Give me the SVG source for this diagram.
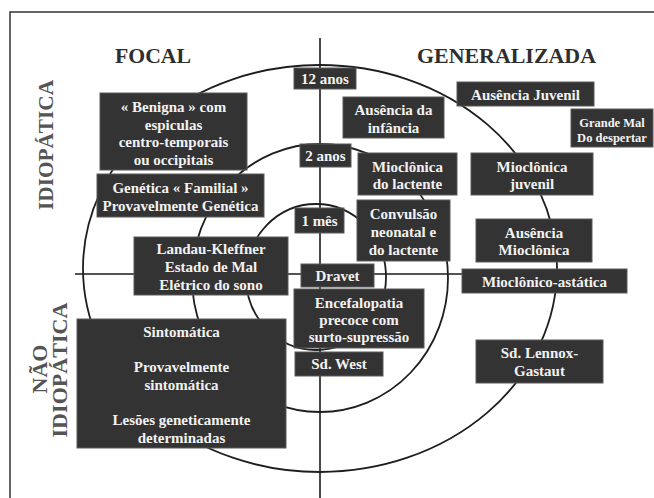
<svg xmlns="http://www.w3.org/2000/svg" width="654" height="498" viewBox="0 0 654 498">
<style>
.bg{fill:#ffffff}
.frame{fill:none;stroke:#333;stroke-width:1.5}
.ax{fill:none;stroke:#1a1a1a;stroke-width:1.6}
.ring{fill:none;stroke:#1e1e1e;stroke-width:1.8}
.box rect{fill:#333333;stroke:#5a5a5a;stroke-width:1}
.box text{fill:#f2f2f2;font-family:"Liberation Serif","Times New Roman",serif;font-weight:bold;font-size:15px;text-anchor:middle}
.box text.sm{font-size:12.5px}
.hd{fill:#2e2e2e;font-family:"Liberation Serif","Times New Roman",serif;font-weight:bold;font-size:22px;text-anchor:middle}
.vt{fill:#555;font-family:"Liberation Serif","Times New Roman",serif;font-weight:bold;font-size:22px;text-anchor:middle}
</style>
<rect class="bg" x="0" y="0" width="654" height="498"/>
<path class="frame" d="M10,500 V12 H656"/>

<g id="connectors">
  <line class="ax" x1="320" y1="38" x2="320" y2="498"/>
  <line class="ax" x1="75" y1="274" x2="462" y2="274"/>
  <ellipse class="ring" cx="320" cy="268.5" rx="237" ry="203.5"/>
  <ellipse class="ring" cx="320" cy="278" rx="128" ry="134"/>
  <ellipse class="ring" cx="316" cy="277" rx="70" ry="73"/>
</g>

<g id="labels">
  <text id="lbl-focal" class="hd" x="153" y="63" textLength="76" lengthAdjust="spacingAndGlyphs">FOCAL</text>
  <text id="lbl-generalizada" class="hd" x="506.5" y="63" textLength="179" lengthAdjust="spacingAndGlyphs">GENERALIZADA</text>
  <text id="lbl-idiopatica" class="vt" transform="translate(53,145) rotate(-90)" x="0" y="0" textLength="130" lengthAdjust="spacingAndGlyphs">IDIOPÁTICA</text>
  <g id="lbl-nao-idiopatica">
    <text class="vt" transform="translate(47,369) rotate(-90)" x="0" y="0">NÃO</text>
    <text class="vt" transform="translate(67,370) rotate(-90)" x="0" y="0" textLength="135" lengthAdjust="spacingAndGlyphs">IDIOPÁTICA</text>
  </g>
</g>

<g id="node-benigna" class="box">
  <rect x="100" y="93" width="147" height="77"/>
  <text x="173.5" y="112">« Benigna » com</text>
  <text x="173.5" y="129.5">espiculas</text>
  <text x="173.5" y="147">centro-temporais</text>
  <text x="173.5" y="164.5">ou occipitais</text>
</g>
<g id="node-genetica" class="box">
  <rect x="97" y="174" width="167" height="43"/>
  <text x="180.5" y="193">Genética « Familial »</text>
  <text x="180.5" y="211">Provavelmente Genética</text>
</g>
<g id="node-landau" class="box">
  <rect x="134" y="237" width="154" height="58"/>
  <text x="211" y="254">Landau-Kleffner</text>
  <text x="211" y="272">Estado de Mal</text>
  <text x="211" y="290">Elétrico do sono</text>
</g>
<g id="node-sintomatica" class="box">
  <rect x="77" y="319" width="209" height="129"/>
  <text x="181.5" y="337">Sintomática</text>
  <text x="181.5" y="372">Provavelmente</text>
  <text x="181.5" y="390">sintomática</text>
  <text x="181.5" y="425">Lesões geneticamente</text>
  <text x="181.5" y="443">determinadas</text>
</g>
<g id="node-12anos" class="box">
  <rect x="294" y="68" width="62" height="21"/>
  <text x="325" y="84">12 anos</text>
</g>
<g id="node-2anos" class="box">
  <rect x="300" y="144" width="51" height="23"/>
  <text x="325.5" y="161">2 anos</text>
</g>
<g id="node-1mes" class="box">
  <rect x="295" y="208" width="49" height="25"/>
  <text x="319.5" y="226">1 mês</text>
</g>
<g id="node-ausencia-infancia" class="box">
  <rect x="343" y="97" width="101" height="41"/>
  <text x="393.5" y="115">Ausência da</text>
  <text x="393.5" y="133">infância</text>
</g>
<g id="node-ausencia-juvenil" class="box">
  <rect x="457" y="82" width="137" height="24"/>
  <text x="525.5" y="100">Ausência Juvenil</text>
</g>
<g id="node-grande-mal" class="box">
  <rect x="571" y="109" width="82" height="38"/>
  <text class="sm" x="612" y="126.5">Grande Mal</text>
  <text class="sm" x="612" y="141.5">Do despertar</text>
</g>
<g id="node-mioclonica-lactente" class="box">
  <rect x="358" y="153" width="99" height="42"/>
  <text x="407.5" y="172">Mioclônica</text>
  <text x="407.5" y="188.5">do lactente</text>
</g>
<g id="node-mioclonica-juvenil" class="box">
  <rect x="471" y="153" width="122" height="42"/>
  <text x="532" y="172">Mioclônica</text>
  <text x="532" y="189">juvenil</text>
</g>
<g id="node-convulsao" class="box">
  <rect x="357" y="200" width="93" height="61"/>
  <text x="403.5" y="218.5">Convulsão</text>
  <text x="403.5" y="236.5">neonatal e</text>
  <text x="403.5" y="254.5">do lactente</text>
</g>
<g id="node-ausencia-mioclonica" class="box">
  <rect x="476" y="219" width="116" height="43"/>
  <text x="534" y="238">Ausência</text>
  <text x="534" y="255">Mioclônica</text>
</g>
<g id="node-mioclonico-astatica" class="box">
  <rect x="462" y="269" width="165" height="24"/>
  <text x="544.5" y="287">Mioclônico-astática</text>
</g>
<g id="node-dravet" class="box">
  <rect x="301" y="264" width="73" height="23"/>
  <text x="337.5" y="281">Dravet</text>
</g>
<g id="node-encefalopatia" class="box">
  <rect x="294" y="289" width="130" height="59"/>
  <text x="359" y="308">Encefalopatia</text>
  <text x="359" y="325">precoce com</text>
  <text x="359" y="342">surto-supressão</text>
</g>
<g id="node-west" class="box">
  <rect x="295" y="352" width="88" height="24"/>
  <text x="339" y="369">Sd. West</text>
</g>
<g id="node-lennox" class="box">
  <rect x="476" y="340" width="127" height="43"/>
  <text x="539.5" y="358">Sd. Lennox-</text>
  <text x="539.5" y="376">Gastaut</text>
</g>
</svg>
